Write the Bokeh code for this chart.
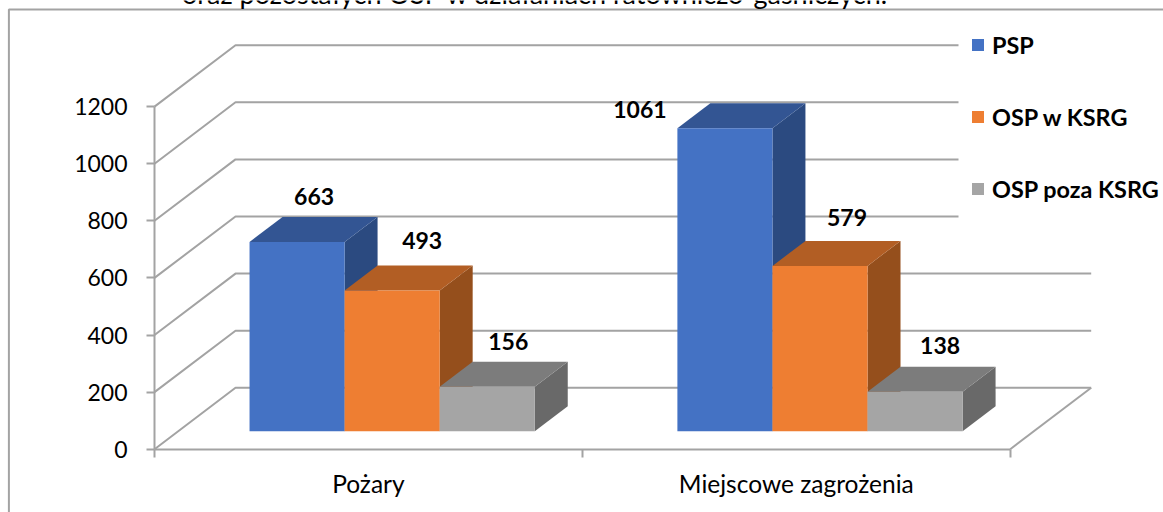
from bokeh.plotting import figure
from bokeh.embed import file_html
from bokeh.resources import INLINE
from bokeh.core.properties import value
from bokeh.models import Range1d, LinearAxis, FixedTicker, Legend, LegendItem

categories = ["Pożary", "Miejscowe zagrożenia"]
series = ["PSP", "OSP w KSRG", "OSP poza KSRG"]
psp = [663, 1061]
osp_ksrg = [493, 579]
osp_poza = [156, 138]
y_ticks = [0, 200, 400, 600, 800, 1000, 1200]
title_text = "oraz pozostałych OSP w działaniach ratowniczo-gaśniczych."

front_col = ["#4472C4", "#EE7E32", "#A5A5A5"]
top_col = ["#335593", "#B25E24", "#7C7C7C"]
side_col = ["#2B4A80", "#954F1C", "#696969"]
GRID = "#A3A3A3"
FONT = "Lato"

W, H = 1163, 512
X0, X_STEP = 154.0, 427.85      # pixel of category edge 0, pixels per category
Y0, Y_STEP = 448.7, 57.1 / 200  # pixel of value 0, pixels per unit
DX, DY = 81.0 / X_STEP, 61.4 / Y_STEP  # full depth offset of the 3D box, data units
D0, D1 = 0.293, 0.70            # bar depth span
BAR_W, BAR_GAP = 1 / 4.5, 0.75 / 4.5

def px(x):
    return (x - X0) / X_STEP
def py(y):
    return (Y0 - y) / Y_STEP

p = figure(width=W, height=H, output_backend="svg", toolbar_location=None,
           x_range=Range1d(px(0), px(W)), y_range=Range1d(py(H), py(0)),
           min_border=0, min_border_left=0, min_border_right=0, min_border_top=0, min_border_bottom=0,
           x_axis_type=None, y_axis_type=None, outline_line_color=None,
           background_fill_color="white", border_fill_color="white")
p.grid.visible = False
p.styles = {"position": "absolute", "left": "0px", "top": "0px"}

# Outer chart frame (top and left edges are the only ones visible)
p.line([px(8.4), px(8.4), px(W)], [py(H), py(9), py(9)], line_color=GRID, line_width=2)

# Walls
x_right = len(categories)
LEGEND_LEFT = 958.0
wall_xs, wall_ys = [], []
for t in y_ticks:
    end = px(LEGEND_LEFT) if t >= 600 else x_right + DX
    wall_xs.append([0, DX, end])
    wall_ys.append([t, t + DY, t + DY])
p.multi_line(wall_xs, wall_ys, line_color=GRID, line_width=2)
p.line([x_right, x_right + DX], [0, DY], line_color=GRID, line_width=2)

# Axes
yax = LinearAxis(ticker=FixedTicker(ticks=y_ticks), fixed_location=0, bounds=(0, 1200),
                 axis_line_color=GRID, axis_line_width=2, major_tick_line_color=GRID, major_tick_line_width=2,
                 major_tick_out=8, major_tick_in=0, minor_tick_line_color=None, major_label_standoff=19,
                 major_label_text_font=FONT, major_label_text_font_size="23px", major_label_text_color="#000000")
p.add_layout(yax, "left")
xax = LinearAxis(ticker=FixedTicker(ticks=list(range(len(categories) + 1))), fixed_location=0,
                 axis_line_color=GRID, axis_line_width=2, major_tick_line_color=GRID, major_tick_line_width=2,
                 major_tick_out=8, major_tick_in=0, minor_tick_line_color=None,
                 major_label_text_color=None, major_label_text_font_size="1px", bounds=(0, x_right))
p.add_layout(xax, "below")
mids = [i + 0.5 for i in range(len(categories))]
xlab = LinearAxis(ticker=FixedTicker(ticks=mids), fixed_location=0, axis_line_color=None,
                  major_tick_line_color=None, minor_tick_line_color=None, major_label_standoff=14,
                  major_label_overrides=dict(zip(mids, categories)),
                  major_label_text_font=FONT, major_label_text_font_size="24.5px", major_label_text_color="#000000")
p.add_layout(xlab, "below")

# 3D bars
legend_items = []
for s, vals in enumerate([psp, osp_ksrg, osp_poza]):
    lefts = [c + BAR_GAP + s * BAR_W + D0 * DX for c in range(len(vals))]
    rights = [l + BAR_W for l in lefts]
    base = D0 * DY
    tops = [v + base for v in vals]
    dd = (D1 - D0)
    top_x = [[l, r, r + dd * DX, l + dd * DX] for l, r in zip(lefts, rights)]
    top_y = [[t, t, t + dd * DY, t + dd * DY] for t in tops]
    side_x = [[r, r + dd * DX, r + dd * DX, r] for r in rights]
    side_y = [[base, base + dd * DY, t + dd * DY, t] for t in tops]
    # draw group by group so that later bars cover earlier sides
    p.patches(side_x, side_y, fill_color=side_col[s], line_color=None)
    p.patches(top_x, top_y, fill_color=top_col[s], line_color=None)
    front = p.quad(left=lefts, right=rights, bottom=base, top=tops, fill_color=front_col[s], line_color=None)
    legend_items.append(LegendItem(label=value(series[s]), renderers=[front]))

# Data labels (hand placed in the original)
label_off = [[(17, -45), (30, -50), (21, -45)], [(-85, -19), (27, -48), (25, -46)]]
lx, ly, lt, ldx, ldy = [], [], [], [], []
for s, vals in enumerate([psp, osp_ksrg, osp_poza]):
    for c, v in enumerate(vals):
        lx.append(c + BAR_GAP + s * BAR_W + D0 * DX + BAR_W / 2)
        ly.append(v + D0 * DY)
        lt.append(str(v))
        ldx.append(label_off[c][s][0])
        ldy.append(label_off[c][s][1])
p.text(lx, ly, text=lt, x_offset=ldx, y_offset=ldy, text_align="center", text_baseline="middle",
       text_font=value(FONT), text_font_style="bold", text_font_size="23px", text_color="#000000")

# Cut-off title line
p.text([px(535)], [py(-7)], text=[title_text], text_align="center", text_baseline="middle",
       text_font=value(FONT), text_font_size="27px", text_color="#000000")

legend = Legend(items=legend_items, orientation="vertical", location=(970, H - 202.5),
                padding=13, margin=0, spacing=44, glyph_width=15, glyph_height=15, label_height=15,
                label_standoff=7, border_line_color=None, background_fill_color="white", background_fill_alpha=1,
                label_text_font=FONT, label_text_font_style="bold", label_text_font_size="23.4px",
                label_text_color="#000000", label_text_baseline="middle")
p.add_layout(legend)

open("out.html", "w").write(file_html(p, INLINE))
